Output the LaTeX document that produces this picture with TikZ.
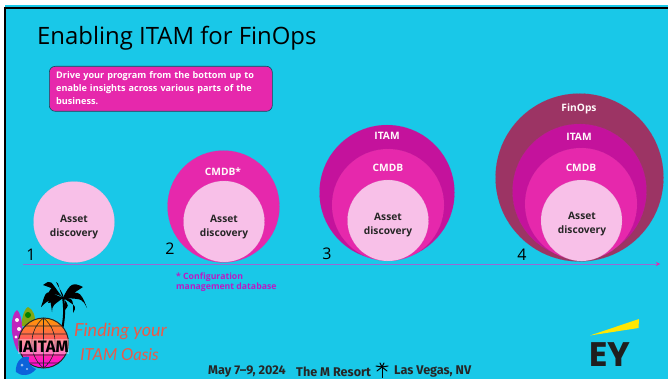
\documentclass[tikz,border=0pt]{standalone}
\usepackage{fontspec}
\setmainfont{Open Sans}
\newfontfamily\scriptish{Lato}
\newfontfamily\datefont{Fira Sans}
\newfontfamily\logofont{Poppins}
\usetikzlibrary{arrows.meta}
\definecolor{bgc}{HTML}{19C8E8}
\definecolor{pale}{HTML}{F8C0E8}
\definecolor{cmdbc}{HTML}{E628AC}
\definecolor{itamc}{HTML}{C4129C}
\definecolor{finc}{HTML}{9C3464}
\definecolor{notec}{HTML}{B81CC4}
\definecolor{coral}{HTML}{EC5A48}
\definecolor{axisc}{HTML}{9A68D4}
\tikzset{
 x=1pt,y=-1pt,
 disc/.style={circle,inner sep=0pt,draw=#1!70!gray,densely dotted,line width=.35pt,fill=#1},
 base/.style={disc=pale,minimum size=81pt},
 baselabel/.style={inner sep=0pt,align=center,font=\bfseries\fontsize{10.2}{14}\selectfont,text=black!85},
 ringlabel/.style={font=\bfseries\fontsize{10.2}{12}\selectfont,text=white!92!pink},
 stepnum/.style={font=\fontsize{16}{16}\selectfont,text=black},
 frond/.style={fill=black},
 dateline/.style={anchor=west,inner sep=0pt,text=black!85,font=\datefont\bfseries\fontsize{12.6}{14}\selectfont},
}
\begin{document}
\begin{tikzpicture}
\useasboundingbox (0,0) rectangle (668,379);
\fill[white] (0,0) rectangle (668,379);
\fill[bgc] (5,5.5) rectangle (668,379);
\draw[black,line width=2pt] (5,379) -- (5,8) -- (668,8);
\node[anchor=west,inner sep=0pt,font=\fontsize{23.9}{26}\selectfont] (title) at (37,38.5) {Enabling ITAM for FinOps};
\node[anchor=north west,draw=black!60!bgc,line width=.6pt,fill=cmdbc,rounded corners=6pt,minimum width=223pt,minimum height=45pt,inner sep=0pt] (box) at (49,66) {};
\node[anchor=north west,inner sep=0pt,text width=210pt,align=left,text=white,font=\bfseries\fontsize{9.1}{13.4}\selectfont] (boxtext) at (56,71) {Drive your program from the bottom up to enable insights across various parts of the business.};

% stage 1
\node[base] (a1) at (74,222) {};
\node[baselabel] (t1) at (74,227) {Asset\\discovery};
% stage 2
\node[disc=cmdbc,minimum size=112pt] (c2) at (223.5,206.5) {};
\node[base] (a2) at (224,221.5) {};
\node[baselabel] (t2) at (224,227) {Asset\\discovery};
\node[ringlabel] (l2) at (223,172) {CMDB*};
% stage 3
\node[disc=itamc,minimum size=135pt] (i3) at (387,192.5) {};
\node[disc=cmdbc,minimum size=112pt] (c3) at (388,205) {};
\node[base] (a3) at (388,220.5) {};
\node[baselabel] (t3) at (388,225) {Asset\\discovery};
\node[ringlabel] (m3) at (387,136) {ITAM};
\node[ringlabel] (l3) at (388,168) {CMDB};
% stage 4
\node[disc=finc,minimum size=168pt] (f4) at (579.5,177.5) {};
\node[disc=itamc,minimum size=134pt] (i4) at (579.5,191) {};
\node[disc=cmdbc,minimum size=112pt] (c4) at (581,204) {};
\node[base] (a4) at (581.5,220.5) {};
\node[baselabel] (t4) at (582,224) {Asset\\discovery};
\node[ringlabel] (f4l) at (579,109) {FinOps};
\node[ringlabel] (m4) at (579,137) {ITAM};
\node[ringlabel] (l4) at (581,168) {CMDB};

% axis
\coordinate (axs) at (23,264);
\coordinate (axe) at (660,264);
\draw[line width=.6pt,color=axisc,-{Stealth[length=4pt,width=4pt,color=cmdbc]}] (axs) -- (axe);
\node[stepnum] (n1) at (31,255) {1};
\node[stepnum] (n2) at (170,249) {2};
\node[stepnum] (n3) at (327,254) {3};
\node[stepnum] (n4) at (522,255) {4};

\node[anchor=north west,inner sep=0pt,align=left,text=notec,font=\bfseries\fontsize{8.7}{10}\selectfont] (note) at (176,272.5) {* Configuration\\management database};

% logo: boards
\fill[violet!60!magenta!85!white] (17,350) .. controls (10,335) and (10,315) .. (17,310) .. controls (22,314) and (24,330) .. (22,356) -- cycle;
\fill[white!85!pink] (17,320) circle (2pt) (19,329) circle (2pt) (16,337) circle (1.6pt);
\fill[olive!60!green!85!yellow] (22,326) .. controls (21,316) and (26,307) .. (28,307) .. controls (33,309) and (36,316) .. (35,326) -- cycle;
\fill[black!50!green] (28,315) circle (3pt);
% logo: palm
\draw[black,line width=2pt] (63,297) .. controls (65,310) and (64,320) .. (62,330);
\foreach \ex/\ey/\cx/\cy in {43/285/52/283,41/307/47/293,52/312/50/299,56/282/60/288,83/287/73/286,87/308/80/293,73/313/74/301,47/295/54/288,78/298/72/290,65/310/66/300,48/303/52/296}{
 \fill[frond] (63,298) .. controls (\cx-3,\cy-3) and (\cx,\cy-4) .. (\ex,\ey) .. controls (\cx+2,\cy+6) and (\cx+4,\cy+6) .. (63,298);
}
% logo: globe
\shade[top color=orange!80!yellow,middle color=orange!50!red,bottom color=magenta!90!red,shading=axis] (43.5,343) circle (25pt);
\draw[black!85,line width=1pt] (43.5,343) circle (25pt);
\draw[black!85,line width=.6pt] (43.5,318) -- (43.5,368) (43.5,318) .. controls (28,330) and (28,356) .. (43.5,368) (43.5,318) .. controls (59,330) and (59,356) .. (43.5,368) (25,326) -- (62,326) (20,334) -- (67,334) (21,355) -- (66,355) (28,363) -- (59,363);
\fill[white,opacity=.35] (18,339) rectangle (69,354);
\node[inner sep=0pt,text=black,font=\datefont\bfseries\fontsize{16.5}{17}\selectfont] (iaitam) at (43.5,346.5) {IAITAM};
% logo: wave
\fill[blue!45!bgc!90!black] (16,372) .. controls (15,362) and (22,355) .. (29,357) .. controls (27,362) and (31,367) .. (36,369) .. controls (30,377) and (20,376) .. (16,372) -- cycle;
\fill[white,opacity=.6] (22,365) circle (1.5pt) (27,369) circle (1.2pt);
% logo text
\node[inner sep=0pt,text=coral,font=\scriptish\itshape\fontsize{18}{18}\selectfont] (oasis1) at (120.5,332) {Finding your};
\node[inner sep=0pt,text=coral,font=\scriptish\itshape\fontsize{16.5}{18}\selectfont] (oasis2) at (119.5,355) {ITAM Oasis};
% date line
\node[dateline] (date) at (208,371.5) {May 7–9, 2024};
\node[dateline] (place) at (296,371.5) {The M Resort};
\node[dateline] (city) at (394,371.5) {Las Vegas, NV};
\draw[black,line width=1pt] (382,368) -- (382,378);
\foreach \ex/\ey in {376/366,377/371,388/366,387/371,380/363,384/363}{
 \draw[black,line width=1pt,line cap=round] (382,367) -- (\ex,\ey);
}
% EY
\fill[yellow!90!orange] (590,335.5) -- (639,319) -- (638.5,328) -- cycle;
\node[inner sep=0pt,text=black!88,font=\logofont\bfseries\fontsize{34}{34}\selectfont] (ey) at (610,355) {EY};
\end{tikzpicture}
\end{document}
